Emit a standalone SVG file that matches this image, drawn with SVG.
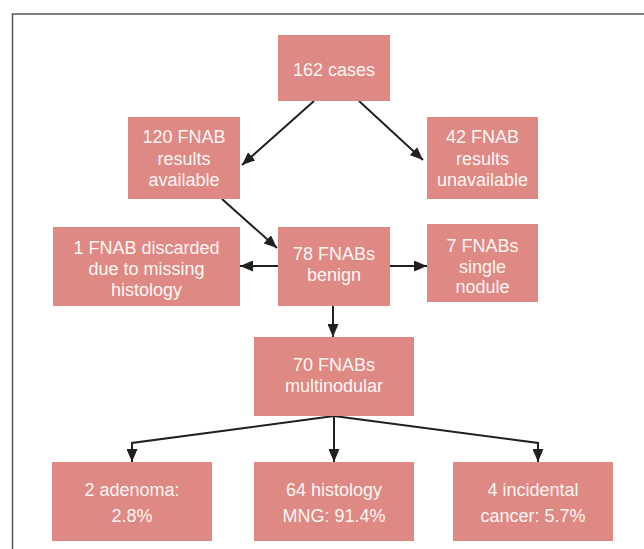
<svg xmlns="http://www.w3.org/2000/svg" width="644" height="549" viewBox="0 0 644 549">
<style>
.box{fill:#DE8983;}
.t{font-family:"Liberation Sans",Arial,sans-serif;font-size:18px;fill:#FFF6F4;text-anchor:middle;}
.c{stroke:#231F20;stroke-width:2;fill:none;}
</style>
<defs>
<marker id="ah" viewBox="0 0 13 11" refX="13" refY="5.5" markerWidth="13" markerHeight="11" markerUnits="userSpaceOnUse" orient="auto">
<path d="M0,0 L13,5.5 L0,11 Z" fill="#231F20"/>
</marker>
</defs>
<rect width="644" height="549" fill="#ffffff"/>
<path d="M12.5,560 L12.5,14 L660,14" fill="none" stroke="#555555" stroke-width="1.5"/>
<g id="connectors">
<line class="c" x1="314" y1="101" x2="242" y2="165" marker-end="url(#ah)"/>
<line class="c" x1="359" y1="101" x2="423" y2="160" marker-end="url(#ah)"/>
<line class="c" x1="222" y1="199" x2="277" y2="248" marker-end="url(#ah)"/>
<line class="c" x1="278" y1="266" x2="240" y2="266" marker-end="url(#ah)"/>
<line class="c" x1="390" y1="266" x2="427" y2="266" marker-end="url(#ah)"/>
<line class="c" x1="333" y1="306" x2="333" y2="337" marker-end="url(#ah)"/>
<polyline class="c" points="334,416 132,443 132,462" marker-end="url(#ah)"/>
<line class="c" x1="334" y1="416" x2="334" y2="462" marker-end="url(#ah)"/>
<polyline class="c" points="334,416 538,443 538,462" marker-end="url(#ah)"/>
</g>
<g id="n162">
<rect class="box" x="278" y="35" width="112" height="66"/>
<text class="t" x="334" y="76">162 cases</text>
</g>
<g id="n120">
<rect class="box" x="128" y="117" width="112" height="82"/>
<text class="t" x="184" y="143">120 FNAB</text>
<text class="t" x="184" y="165">results</text>
<text class="t" x="184" y="186">available</text>
</g>
<g id="n42">
<rect class="box" x="427" y="117" width="111" height="82"/>
<text class="t" x="482.5" y="143">42 FNAB</text>
<text class="t" x="482.5" y="165">results</text>
<text class="t" x="482.5" y="186">unavailable</text>
</g>
<g id="n1">
<rect class="box" x="53" y="227" width="187" height="79"/>
<text class="t" x="146.5" y="254">1 FNAB discarded</text>
<text class="t" x="146.5" y="275">due to missing</text>
<text class="t" x="146.5" y="296">histology</text>
</g>
<g id="n78">
<rect class="box" x="278" y="227" width="112" height="79"/>
<text class="t" x="334" y="260">78 FNABs</text>
<text class="t" x="334" y="281">benign</text>
</g>
<g id="n7">
<rect class="box" x="427" y="224" width="111" height="78"/>
<text class="t" x="482.5" y="252">7 FNABs</text>
<text class="t" x="482.5" y="273">single</text>
<text class="t" x="482.5" y="293">nodule</text>
</g>
<g id="n70">
<rect class="box" x="254" y="337" width="160" height="79"/>
<text class="t" x="334" y="371">70 FNABs</text>
<text class="t" x="334" y="392">multinodular</text>
</g>
<g id="nadenoma">
<rect class="box" x="52" y="462" width="160" height="79"/>
<text class="t" x="132" y="496">2 adenoma:</text>
<text class="t" x="132" y="522">2.8%</text>
</g>
<g id="nhisto">
<rect class="box" x="254" y="462" width="160" height="79"/>
<text class="t" x="334" y="496">64 histology</text>
<text class="t" x="334" y="522">MNG: 91.4%</text>
</g>
<g id="ncancer">
<rect class="box" x="453" y="462" width="160" height="79"/>
<text class="t" x="533" y="496">4 incidental</text>
<text class="t" x="533" y="522">cancer: 5.7%</text>
</g>
</svg>
